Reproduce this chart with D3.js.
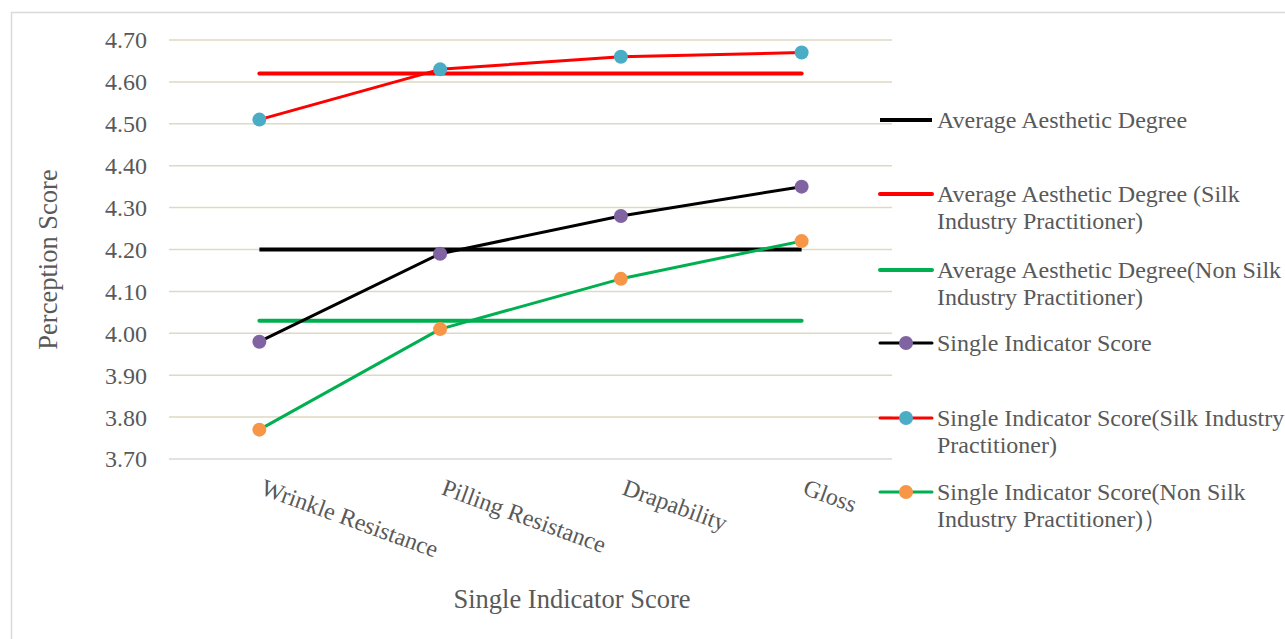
<!DOCTYPE html>
<html>
<head>
<meta charset="utf-8">
<script src="https://cdn.jsdelivr.net/npm/d3@7"></script>
<style>
  body { margin: 0; background: #fff; }
  svg text { font-family: "Liberation Serif", "Times New Roman", serif; fill: #595959; }
</style>
</head>
<body>
<svg id="chart" width="1285" height="639"></svg>
<script>
const categories = ["Wrinkle Resistance", "Pilling Resistance", "Drapability", "Gloss"];
const yTicks = [3.7, 3.8, 3.9, 4.0, 4.1, 4.2, 4.3, 4.4, 4.5, 4.6, 4.7];

// flat average lines
const avgAll = [4.20, 4.20, 4.20, 4.20];
const avgSilk = [4.62, 4.62, 4.62, 4.62];
const avgNonSilk = [4.03, 4.03, 4.03, 4.03];

// single indicator scores
const scoreAll = [3.98, 4.19, 4.28, 4.35];
const scoreSilk = [4.51, 4.63, 4.66, 4.67];
const scoreNonSilk = [3.77, 4.01, 4.13, 4.22];

const seriesNames = [
    ["Average Aesthetic Degree"],
    ["Average Aesthetic Degree (Silk", "Industry Practitioner)"],
    ["Average Aesthetic Degree(Non Silk", "Industry Practitioner)"],
    ["Single Indicator Score"],
    ["Single Indicator Score(Silk Industry", "Practitioner)"],
    ["Single Indicator Score(Non Silk", "Industry Practitioner)\uFF09"]
];

const series = [
    { name: seriesNames[0], values: avgAll, line: "#000000", width: 4, marker: null, cap: "butt" },
    { name: seriesNames[1], values: avgSilk, line: "#ff0000", width: 4, marker: null, cap: "round" },
    { name: seriesNames[2], values: avgNonSilk, line: "#00b050", width: 4, marker: null, cap: "round" },
    { name: seriesNames[3], values: scoreAll, line: "#000000", width: 3, marker: "#8064a2", cap: "round" },
    { name: seriesNames[4], values: scoreSilk, line: "#ff0000", width: 3, marker: "#4bacc6", cap: "round" },
    { name: seriesNames[5], values: scoreNonSilk, line: "#00b050", width: 3, marker: "#f79646", cap: "round" }
];

const svg = d3.select("#chart");

// outer chart border
svg.append("rect")
    .attr("x", 11.5).attr("y", 12.5)
    .attr("width", 1290).attr("height", 640)
    .attr("fill", "none").attr("stroke", "#d9d9d9").attr("stroke-width", 1.5);

const plotLeft = 169, plotRight = 892, plotTop = 40, plotBottom = 459;

const x = d3.scalePoint().domain(categories).range([plotLeft, plotRight]).padding(0.5);
const y = d3.scaleLinear().domain([3.7, 4.7]).range([plotBottom, plotTop]);

// gridlines
svg.append("g")
    .selectAll("line")
    .data(yTicks)
    .join("line")
    .attr("x1", plotLeft).attr("x2", plotRight)
    .attr("y1", d => y(d)).attr("y2", d => y(d))
    .attr("stroke", d => d === 3.7 ? "#d9d9d9" : "#ddd9c3")
    .attr("stroke-width", 1.5);

// y axis labels
const yAxis = svg.append("g")
    .attr("transform", `translate(${plotLeft - 22},0)`)
    .call(d3.axisLeft(y).tickValues(yTicks).tickFormat(d3.format(".2f")).tickSize(0).tickPadding(0))
    .attr("font-family", null).attr("font-size", null);
yAxis.select(".domain").remove();
yAxis.selectAll("text")
    .attr("font-size", 24)
    .attr("dy", "0.33em")
    .attr("fill", "#595959");

// x axis labels, rotated
svg.append("g")
    .selectAll("text")
    .data(categories)
    .join("text")
    .attr("transform", d => `translate(${x(d)},${plotBottom + 35}) rotate(20)`)
    .attr("font-size", 24)
    .text(d => d);

// axis titles
svg.append("text")
    .attr("transform", `translate(57,${(plotTop + plotBottom) / 2 + 10}) rotate(-90)`)
    .attr("text-anchor", "middle")
    .attr("font-size", 26.5)
    .text("Perception Score");

svg.append("text")
    .attr("x", 572).attr("y", 608)
    .attr("text-anchor", "middle")
    .attr("font-size", 26.5)
    .text("Single Indicator Score");

const line = d3.line()
    .x((d, i) => x(categories[i]))
    .y(d => y(d));

// lines (flat averages first, then scores)
svg.append("g")
    .selectAll("path")
    .data(series)
    .join("path")
    .attr("d", s => line(s.values))
    .attr("fill", "none")
    .attr("stroke", s => s.line)
    .attr("stroke-width", s => s.width)
    .attr("stroke-linecap", s => s.cap)
    .attr("stroke-linejoin", "round");

// markers
series.filter(s => s.marker).forEach(s => {
    svg.append("g")
        .selectAll("circle")
        .data(s.values)
        .join("circle")
        .attr("cx", (d, i) => x(categories[i]))
        .attr("cy", d => y(d))
        .attr("r", 7)
        .attr("fill", s.marker);
});

// legend
const legendY = [120, 194, 270, 343, 418, 492];
const legend = svg.append("g")
    .selectAll("g")
    .data(series)
    .join("g")
    .attr("transform", (s, i) => `translate(878,${legendY[i]})`);

legend.append("line")
    .attr("x1", 2).attr("x2", 54)
    .attr("y1", 0).attr("y2", 0)
    .attr("stroke", s => s.line)
    .attr("stroke-width", s => s.width)
    .attr("stroke-linecap", s => s.cap);

legend.filter(s => s.marker).append("circle")
    .attr("cx", 28).attr("cy", 0).attr("r", 7)
    .attr("fill", s => s.marker);

legend.append("text")
    .attr("x", 59)
    .attr("font-size", 24)
    .selectAll("tspan")
    .data(s => s.name)
    .join("tspan")
    .attr("x", 59)
    .attr("y", (d, i) => 8 + i * 27)
    .text(d => d);
</script>
</body>
</html>
